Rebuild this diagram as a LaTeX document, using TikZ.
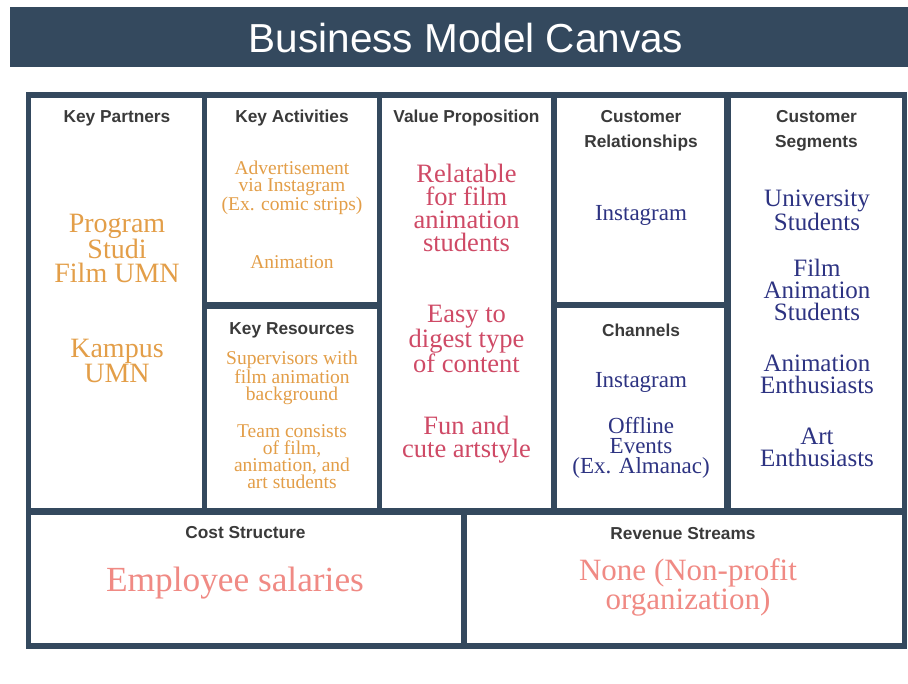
\documentclass[tikz,border=0pt]{standalone}
\usepackage{fontspec}
\setmainfont{Liberation Serif}
\newfontfamily\hdfont{Liberation Sans}
\definecolor{frame}{HTML}{34495E}
\definecolor{hdgray}{HTML}{3A3A3A}
\definecolor{orng}{HTML}{E39E48}
\definecolor{crim}{HTML}{CF4A66}
\definecolor{navy}{HTML}{2D3382}
\definecolor{salm}{HTML}{F08A84}
\tikzset{
  cell/.style={fill=white},
  hd/.style={font=\hdfont\bfseries\fontsize{17.3}{25}\selectfont, text=hdgray, align=center, inner sep=0pt},
  kp/.style={font=\fontsize{28}{23.5}\selectfont, text=orng, align=center, inner sep=0pt},
  ka/.style={font=\fontsize{19.5}{16.8}\selectfont, text=orng, align=center, inner sep=0pt},
  vp/.style={font=\fontsize{26.5}{23.2}\selectfont, text=crim, align=center, inner sep=0pt},
  ch/.style={font=\fontsize{23}{20.2}\selectfont, text=navy, align=center, inner sep=0pt},
  cs/.style={font=\fontsize{25}{22}\selectfont, text=navy, align=center, inner sep=0pt},
  cr/.style={font=\fontsize{32}{29}\selectfont, text=salm, align=center, inner sep=0pt},
}
\begin{document}
\begin{tikzpicture}[x=1pt,y=-1pt]
\useasboundingbox (0,0) rectangle (908,684);
\fill[white] (0,0) rectangle (908,684);
% title bar
\fill[frame] (10,7) rectangle (908,67);
\node[font=\hdfont\fontsize{40.5}{44}\selectfont, text=white, inner sep=0pt] (title) at (466,38) {Business Model Canvas};
% frame
\fill[frame] (26,92) rectangle (907,649);
\fill[cell] (31,98.5) rectangle (202,508);   % key partners
\fill[cell] (207,98.5) rectangle (377,302);  % key activities
\fill[cell] (207,309) rectangle (377,508);   % key resources
\fill[cell] (382,98.5) rectangle (551,508);  % value proposition
\fill[cell] (557,98.5) rectangle (724,302);  % customer relationships
\fill[cell] (557,308) rectangle (724,508);   % channels
\fill[cell] (731,98.5) rectangle (902,508);  % customer segments
\fill[cell] (31,515) rectangle (461,643);    % cost structure
\fill[cell] (467,515) rectangle (902,643);   % revenue streams
% headers
\node[hd] (hkp) at (117,118) {Key Partners};
\node[hd] (hka) at (292,118) {Key Activities};
\node[hd] (hvp) at (466.5,118) {Value Proposition};
\node[hd] (hcr) at (641,130.5) {Customer\\Relationships};
\node[hd] (hcs) at (816.5,130.5) {Customer\\Segments};
\node[hd] (hkr) at (292,330) {Key Resources};
\node[hd] (hch) at (641,330) {Channels};
\node[hd] (hco) at (245.5,532.5) {Cost Structure};
\node[hd] (hrs) at (683,533.5) {Revenue Streams};
% key partners
\node[kp] (kp1) at (117,248) {Program\\Studi\\Film UMN};
\node[kp] (kp2) at (117,361) {Kampus\\UMN};
% key activities
\node[ka] (ka1) at (292,188) {Advertisement\\via Instagram\\(Ex. comic strips)};
\node[ka] (ka2) at (292,262) {Animation};
% key resources
\node[ka] (kr1) at (292,378) {Supervisors with\\film animation\\background};
\node[ka] (kr2) at (292,456.5) {Team consists\\of film,\\animation, and\\art students};
% value proposition
\node[vp] (vp1) at (466.5,208) {Relatable\\for film\\animation\\students};
\node[vp] (vp2) at (466.5,339) {Easy to\\digest type\\of content};
\node[vp] (vp3) at (466.5,440) {Fun and\\cute artstyle};
% customer relationships
\node[ch] (cr1) at (641,215) {Instagram};
% channels
\node[ch] (ch1) at (641,382) {Instagram};
\node[ch] (ch2) at (641,448) {Offline\\Events\\(Ex. Almanac)};
% customer segments
\node[cs] (cs1) at (817,210) {University\\Students};
\node[cs] (cs2) at (817,290) {Film\\Animation\\Students};
\node[cs] (cs3) at (817,374) {Animation\\Enthusiasts};
\node[cs] (cs4) at (817,447) {Art\\Enthusiasts};
% cost / revenue
\node[cr,font=\fontsize{35.3}{29}\selectfont] (co1) at (235,583) {Employee salaries};
\node[cr,font=\fontsize{31}{29}\selectfont] (rs1) at (688,587.5) {None (Non-profit\\organization)};
\end{tikzpicture}
\end{document}
